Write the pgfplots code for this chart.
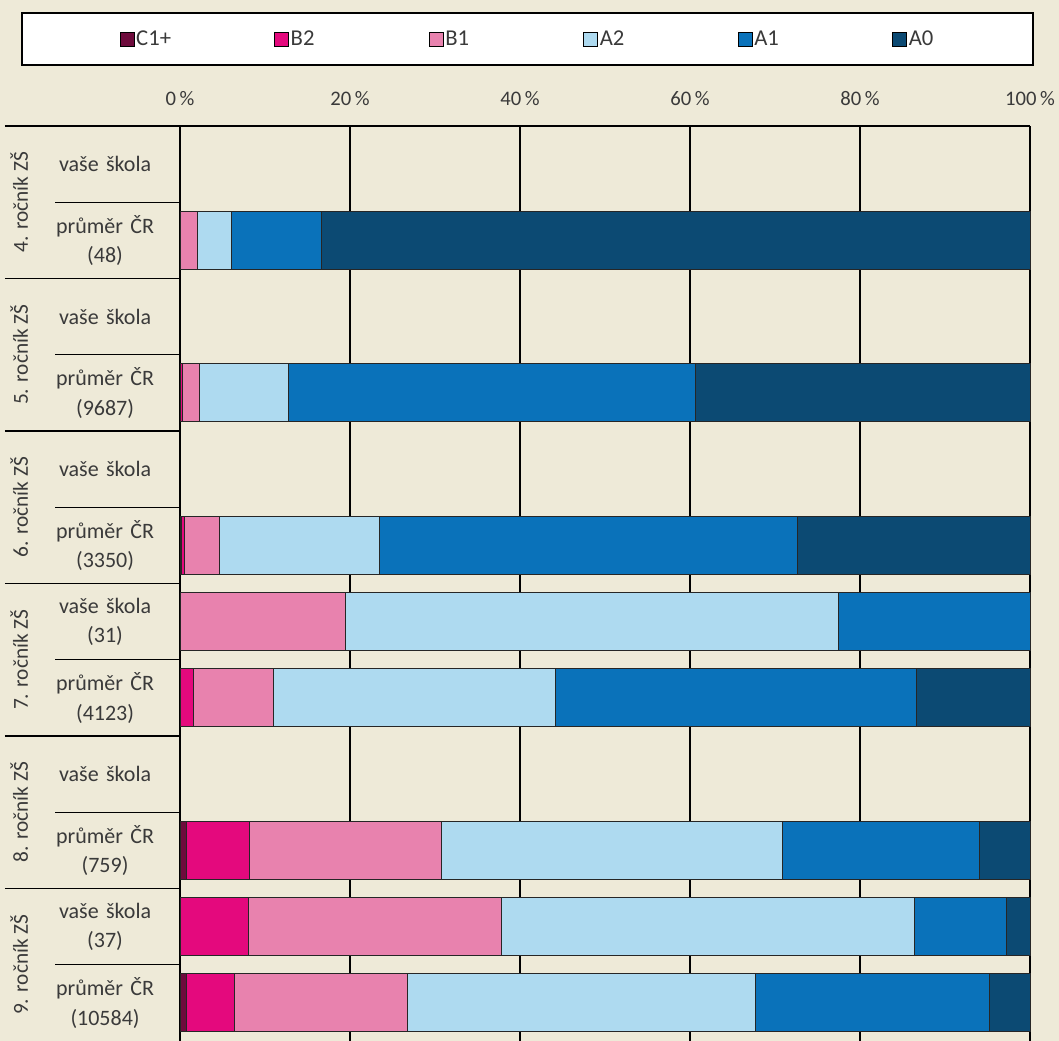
\documentclass[border=0pt]{standalone}
\usepackage{fontspec}
\setmainfont{Carlito}
\usepackage{pgfplots}
\pgfplotsset{compat=1.18}
\usepackage{pgfplotstable}

\definecolor{bg}{HTML}{EEEAD8}
\definecolor{cC}{HTML}{6E0B3C}
\definecolor{cBtwo}{HTML}{E4097D}
\definecolor{cBone}{HTML}{E882AE}
\definecolor{cAtwo}{HTML}{AEDAF0}
\definecolor{cAone}{HTML}{0A72BA}
\definecolor{cAzero}{HTML}{0C4A73}
\definecolor{txt}{HTML}{3A3A3A}

% y = row position (11 = top row), shares in percent
\pgfplotstableread{
y  C    B2   B1    A2    A1    A0
11 0    0    0     0     0     0
10 0    0    2.1   4.0   10.5  83.4
9  0    0    0     0     0     0
8  0.1  0.2  2.0   10.4  47.9  39.4
7  0    0    0     0     0     0
6  0.2  0.3  4.1   18.8  49.2  27.4
5  0    0    19.4  58.0  22.6  0
4  0.1  1.5  9.4   33.2  42.4  13.4
3  0    0    0     0     0     0
2  0.7  7.5  22.6  40.1  23.2  5.9
1  0    8.1  29.7  48.6  10.8  2.8
0  0.8  5.6  20.3  41.0  27.5  4.8
}\data

\pgfplotsset{
  sq/.style={legend image code/.code={\draw[##1,draw=black,line width=0.5pt] (0pt,-5.2pt) rectangle (10.4pt,5.2pt);}},
}

\begin{document}
\begin{tikzpicture}
\fill[bg] (0pt,0pt) rectangle (794.25pt,-780.75pt);
\useasboundingbox (0pt,0pt) rectangle (794.25pt,-780.75pt);
\filldraw[fill=white,draw=black,line width=1.1pt] (16.5pt,-9.75pt) rectangle (774.75pt,-48.75pt);
\begin{axis}[
  at={(135pt,-94.5pt)}, anchor=north west,
  scale only axis, width=637.5pt, height=686.25pt,
  xmin=0, xmax=100, ymin=-0.5, ymax=11.5,
  xbar stacked, bar width=43.5pt,
  clip=false,
  axis x line*=top, axis y line*=left,
  axis line style={line width=1.3pt, black, -},
  xtick={0,20,40,60,80,100},
  xticklabels={0\,\%,20\,\%,40\,\%,60\,\%,80\,\%,100\,\%},
  xticklabel style={font=\fontsize{15.5}{18}\selectfont, text=txt, yshift=12pt},
  ytick={0,...,11},
  yticklabels={{průměr ČR\\(10584)},{vaše škola\\(37)},{průměr ČR\\(759)},{vaše škola},{průměr ČR\\(4123)},{vaše škola\\(31)},{průměr ČR\\(3350)},{vaše škola},{průměr ČR\\(9687)},{vaše škola},{průměr ČR\\(48)},{vaše škola}},
  yticklabel style={font=\fontsize{16.5}{22}\selectfont, text=txt, align=center, text width=112pt, anchor=east, inner xsep=0pt},
  major tick length=0pt,
  xmajorgrids, ymajorgrids=false,
  major grid style={line width=1.1pt, black},
  every axis plot/.append style={draw=black!85, line width=0.6pt},
  legend columns=6,
  legend style={draw=none, fill=none, at={(-0.076,1.095)}, anchor=west,
    font=\fontsize{17}{20}\selectfont, text=txt,
    nodes={inner xsep=1.5pt, text width=102pt, align=left},
    /tikz/every even column/.append style={column sep=0pt}},
]
\addplot[fill=cC, sq] table[x=C, y=y] {\data};
\addplot[fill=cBtwo, sq] table[x=B2, y=y] {\data};
\addplot[fill=cBone, sq] table[x=B1, y=y] {\data};
\addplot[fill=cAtwo, sq] table[x=A2, y=y] {\data};
\addplot[fill=cAone, sq] table[x=A1, y=y] {\data};
\addplot[fill=cAzero, sq] table[x=A0, y=y] {\data};
\legend{C1+,B2,B1,A2,A1,A0}

% separators in the label area
\draw[line width=1.3pt] (axis cs:-20.6,11.5) -- (axis cs:0,11.5);
\draw[line width=1.1pt] (axis cs:-20.6,9.5) -- (axis cs:0,9.5);
\draw[line width=1.1pt] (axis cs:-20.6,7.5) -- (axis cs:0,7.5);
\draw[line width=1.1pt] (axis cs:-20.6,5.5) -- (axis cs:0,5.5);
\draw[line width=1.1pt] (axis cs:-20.6,3.5) -- (axis cs:0,3.5);
\draw[line width=1.1pt] (axis cs:-20.6,1.5) -- (axis cs:0,1.5);
\draw[line width=1.1pt] (axis cs:-14.7,10.5) -- (axis cs:0,10.5);
\draw[line width=1.1pt] (axis cs:-14.7,8.5) -- (axis cs:0,8.5);
\draw[line width=1.1pt] (axis cs:-14.7,6.5) -- (axis cs:0,6.5);
\draw[line width=1.1pt] (axis cs:-14.7,4.5) -- (axis cs:0,4.5);
\draw[line width=1.1pt] (axis cs:-14.7,2.5) -- (axis cs:0,2.5);
\draw[line width=1.1pt] (axis cs:-14.7,0.5) -- (axis cs:0,0.5);
\node[rotate=90, text=txt, font=\fontsize{16}{19}\selectfont] at (axis cs:-18.9,10.5) {4. ročník ZŠ};
\node[rotate=90, text=txt, font=\fontsize{16}{19}\selectfont] at (axis cs:-18.9,8.5) {5. ročník ZŠ};
\node[rotate=90, text=txt, font=\fontsize{16}{19}\selectfont] at (axis cs:-18.9,6.5) {6. ročník ZŠ};
\node[rotate=90, text=txt, font=\fontsize{16}{19}\selectfont] at (axis cs:-18.9,4.5) {7. ročník ZŠ};
\node[rotate=90, text=txt, font=\fontsize{16}{19}\selectfont] at (axis cs:-18.9,2.5) {8. ročník ZŠ};
\node[rotate=90, text=txt, font=\fontsize{16}{19}\selectfont] at (axis cs:-18.9,0.5) {9. ročník ZŠ};
\end{axis}
\end{tikzpicture}
\end{document}
